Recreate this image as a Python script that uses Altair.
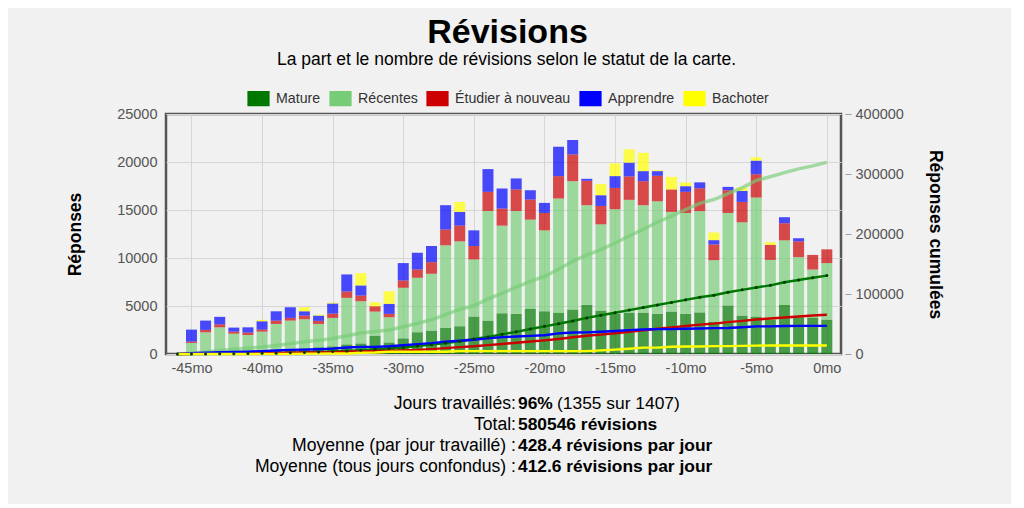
import altair as alt
import numpy as np
import pandas as pd

FONT = "Liberation Sans, Arial, Helvetica, sans-serif"

# ---------------- data ----------------
months = list(range(-45, 1))
categories = ["Mature", "Récentes", "Étudier à nouveau", "Apprendre", "Bachoter"]
bar_colors = ["#007700", "#77cc77", "#cc0000", "#0000ff", "#ffff00"]

mature = [50, 100, 150, 200, 250, 300, 400, 500, 600, 700, 800, 1000, 1100, 1900, 1200,
          1630, 2260, 2430, 2720, 2890, 3900, 3450, 4240, 4180, 4700, 4450, 4280, 4630, 5120, 4520,
          4180, 4300, 4300, 4180, 4420, 4180, 4330, 3350, 5050, 4000, 3900, 3550, 5130, 3830, 3800, 3580]
young = [1100, 2160, 2630, 1920, 1730, 2030, 2730, 2980, 3020, 2430, 2960, 4850, 4400, 2520, 2630,
         5270, 5680, 5930, 8600, 8840, 5950, 11450, 9130, 10720, 9300, 8430, 11920, 13370, 10380, 8990,
         10900, 11760, 11200, 11730, 10380, 10510, 10550, 6420, 9640, 9720, 12400, 6250, 6710, 6260, 5000, 5890]
relearn = [140, 250, 310, 210, 250, 210, 350, 280, 380, 320, 450, 660, 590, 550, 350,
           760, 870, 1210, 1640, 1640, 1400, 1990, 1780, 2240, 2090, 1810, 2330, 2790, 2540, 1910,
           2220, 2440, 2500, 2650, 2340, 2200, 2380, 1640, 2370, 2120, 2420, 1570, 1780, 1640, 1520, 1430]
learn = [1250, 970, 780, 420, 550, 870, 970, 1110, 450, 550, 1050, 1780, 1050, 0, 1040,
         1810, 1740, 1680, 2540, 1430, 1630, 2370, 2090, 1150, 970, 1050, 3060, 1500, 210, 1120,
         1230, 1430, 1050, 490, 0, 590, 620, 450, 350, 1150, 1420, 0, 630, 330, 0, 0]
cram = [0, 0, 0, 0, 0, 140, 0, 0, 420, 100, 100, 0, 1280, 420, 1320,
        0, 0, 0, 0, 1040, 0, 0, 0, 0, 0, 0, 0, 0, 0, 1150,
        1320, 1390, 1910, 100, 1310, 390, 0, 800, 0, 360, 350, 280, 0, 0, 0, 0]
series = [mature, young, relearn, learn, cram]

x_ticks = [-45, -40, -35, -30, -25, -20, -15, -10, -5, 0]
y_ticks = [0, 5000, 10000, 15000, 20000, 25000]
y2_ticks = [0, 100000, 200000, 300000, 400000]

title_text = "Révisions"
subtitle_text = "La part et le nombre de révisions selon le statut de la carte."
stats_labels = ["Jours travaillés:", "Total:", "Moyenne (par jour travaillé) :",
                "Moyenne (tous jours confondus) :"]
stats_values = ["96%", "580546 révisions", "428.4 révisions par jour", "412.6 révisions par jour"]
stats_extra = "(1355 sur 1407)"

# ---------------- tables ----------------
rows = []
for ci, (cat, vals) in enumerate(zip(categories, series)):
    for m, v in zip(months, vals):
        rows.append({"month": m, "cat": cat, "ord": ci, "val": v})
bars_df = pd.DataFrame(rows)

line_rows = []
line_months = [months[0] - 1] + months
for ci, (cat, vals) in enumerate(zip(categories, series)):
    cum = np.concatenate([[0], np.cumsum(vals)])
    for m, c in zip(line_months, cum):
        line_rows.append({"month": m, "cat": cat, "ord": ci, "cum": float(c)})
lines_df = pd.DataFrame(line_rows)

one = pd.DataFrame({"k": [0]})

# ---------------- encodings ----------------
xscale = alt.Scale(domain=[-46.45, 0.65], nice=False, zero=False)
x_enc = alt.X(
    "month:Q", scale=xscale,
    axis=alt.Axis(values=x_ticks, labelExpr="datum.value + 'mo'", title=None, grid=True,
                  gridColor="#d6d6d6", ticks=False, domain=False, labelFontSize=14.5,
                  labelColor="#545454", labelPadding=7, labelFont=FONT),
)

bars = alt.Chart(bars_df).mark_bar(size=11, fillOpacity=0.7).encode(
    x=x_enc,
    y=alt.Y("val:Q", stack="zero", scale=alt.Scale(domain=[0, 25000], nice=False),
            axis=alt.Axis(values=y_ticks, format="d", title="Réponses", grid=True,
                          gridColor="#d6d6d6", ticks=False, domain=False, labelFontSize=14.5,
                          labelColor="#545454", labelPadding=9, labelFont=FONT,
                          titleFont=FONT, titleFontSize=17.5, titleFontWeight="bold",
                          titleColor="#000", titleAngle=-90, titleX=-91, titleY=120,
                          titleAlign="center", titleBaseline="middle")),
    color=alt.Color("cat:N", scale=alt.Scale(domain=categories, range=bar_colors),
                    legend=alt.Legend(title=None, orient="none", legendX=81, legendY=-27,
                                      direction="horizontal",
                                      symbolType="M-1,-0.667H1V0.667H-1Z", symbolSize=441,
                                      symbolStrokeColor="#c8c8c8", symbolStrokeWidth=1.2,
                                      symbolOpacity=1, labelFontSize=14.2, labelColor="#333333",
                                      labelFont=FONT, labelOffset=6, columnPadding=6,
                                      padding=0)),
    order=alt.Order("ord:Q", sort="ascending"),
)

y2 = alt.Y("cum:Q", scale=alt.Scale(domain=[0, 400000], nice=False),
           axis=alt.Axis(orient="right", values=y2_ticks, format="d", title="Réponses cumulées",
                         grid=False, ticks=True, tickSize=6, tickColor="#a0a0a0", offset=4,
                         labelPadding=4, domain=False, labelFontSize=14.5, labelColor="#545454",
                         labelFont=FONT, titleFont=FONT, titleFontSize=17.5,
                         titleFontWeight="bold", titleColor="#000", titleAngle=90, titleX=89,
                         titleY=120, titleAlign="center", titleBaseline="middle"))
stroke_enc = alt.Stroke("cat:N", scale=alt.Scale(domain=categories, range=bar_colors), legend=None)

young_line = alt.Chart(lines_df).transform_filter(alt.datum.cat == "Récentes").mark_line(
    strokeWidth=3.5, opacity=0.65).encode(x=x_enc, y=y2, stroke=stroke_enc)
other_lines = alt.Chart(lines_df).transform_filter(alt.datum.cat != "Récentes").mark_line(
    strokeWidth=2.4).encode(x=x_enc, y=y2, stroke=stroke_enc, detail="cat:N")
mature_pts = alt.Chart(lines_df).transform_filter(alt.datum.cat == "Mature").mark_point(
    filled=True, size=9, color="#003a00", opacity=1).encode(x=x_enc, y=y2)
lines = alt.layer(young_line, other_lines, mature_pts)

title_t = alt.Chart(one).mark_text(text=title_text, font=FONT, fontSize=34, fontWeight="bold",
                                   align="center", baseline="middle", color="#000").encode(
    x=alt.value(341.5), y=alt.value(-81))
subtitle_t = alt.Chart(one).mark_text(text=subtitle_text, font=FONT, fontSize=17.5,
                                      align="center", baseline="middle", color="#000").encode(
    x=alt.value(340.5), y=alt.value(-54))
stats_l = alt.Chart(one).mark_text(text=stats_labels, font=FONT, fontSize=17.6, lineHeight=21,
                                   align="right", baseline="middle", color="#000").encode(
    x=alt.value(350), y=alt.value(290))
stats_v = alt.Chart(one).mark_text(text=stats_values, font=FONT, fontSize=17.4, lineHeight=21,
                                   fontWeight="bold", align="left", baseline="middle",
                                   color="#000").encode(x=alt.value(352), y=alt.value(290))
stats_e = alt.Chart(one).mark_text(text=stats_extra, font=FONT, fontSize=17.4, align="left",
                                   baseline="middle", color="#000").encode(
    x=alt.value(391), y=alt.value(290))

chart = alt.layer(bars, lines, title_t, subtitle_t, stats_l, stats_v, stats_e).resolve_scale(
    y="independent"
).properties(
    width=675, height=240,
    autosize=alt.AutoSizeParams(type="none"),
    padding={"left": 158, "top": 106, "right": 170, "bottom": 150},
    background="#f1f1f1",
).configure_view(stroke="#555555", strokeWidth=2.5)

chart.save("out.html", embed_options={"renderer": "svg", "actions": False})
